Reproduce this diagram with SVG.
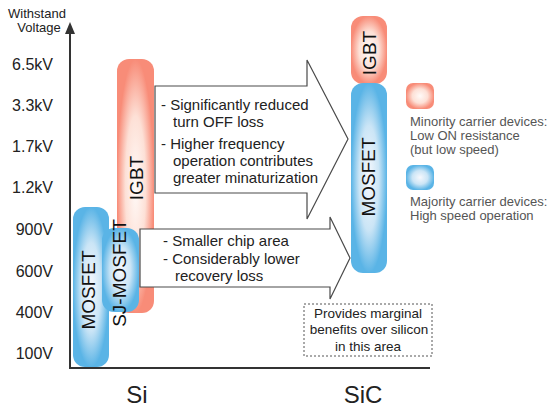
<svg xmlns="http://www.w3.org/2000/svg" width="560" height="410" viewBox="0 0 560 410">
<style>
text{font-family:"Liberation Sans",Arial,sans-serif;fill:#222}
.tick{font-size:16px;text-anchor:end}
.bar{font-size:19px;text-anchor:middle;fill:#111}
.arr{fill:#fff;stroke:#4a4a4a;stroke-width:1.2;stroke-linejoin:miter}
.at{font-size:15px}
.lg{font-size:13px;fill:#555}
.nt{font-size:13.5px;text-anchor:middle}
.ax{stroke:#333;stroke-width:2;fill:none}
</style>
<defs>
<radialGradient id="pink" cx="0.5" cy="0.5" r="0.5">
<stop offset="0" stop-color="#fffaf8"/>
<stop offset="0.55" stop-color="#fde0d6"/>
<stop offset="1" stop-color="#f88c78"/>
</radialGradient>
<radialGradient id="blue" cx="0.5" cy="0.5" r="0.5">
<stop offset="0" stop-color="#f6f8fd"/>
<stop offset="0.55" stop-color="#cbe5f6"/>
<stop offset="1" stop-color="#5ab4e6"/>
</radialGradient>
</defs>

<g id="axes">
<line class="ax" x1="70" y1="368" x2="70" y2="26"/>
<path d="M65,34 L70,22 L75,34 Z" fill="#333"/>
<line class="ax" x1="69" y1="368" x2="430" y2="368"/>
<text x="37" y="18" font-size="13" text-anchor="middle">Withstand</text>
<text x="39" y="32" font-size="13" text-anchor="middle">Voltage</text>
<text class="tick" x="53" y="70">6.5kV</text>
<text class="tick" x="53" y="111">3.3kV</text>
<text class="tick" x="53" y="152">1.7kV</text>
<text class="tick" x="53" y="193">1.2kV</text>
<text class="tick" x="53" y="235">900V</text>
<text class="tick" x="53" y="277">600V</text>
<text class="tick" x="53" y="318">400V</text>
<text class="tick" x="53" y="359">100V</text>
<text x="137" y="403" font-size="24" text-anchor="middle">Si</text>
<text x="363" y="403" font-size="24" text-anchor="middle">SiC</text>
</g>

<g id="si-igbt">
<rect x="117" y="59" width="37" height="254" rx="12" fill="url(#pink)"/>
<text class="bar" transform="translate(136,178) rotate(-90)" dy="0.35em">IGBT</text>
</g>
<g id="si-mosfet">
<rect x="73" y="207" width="36" height="160" rx="12" fill="url(#blue)"/>
<text class="bar" transform="translate(88,290) rotate(-90)" dy="0.35em">MOSFET</text>
</g>

<g id="connectors">
<path class="arr" d="M155,86 H307 V60 L348,139 L307,219 V193 H155 Z"/>
<path class="arr" d="M140,229 H330 V217 L350,258 L330,299 V287 H140 Z"/>
</g>

<g id="sj-mosfet">
<rect x="102" y="228" width="37" height="84" rx="12" fill="url(#blue)"/>
<text class="bar" transform="translate(119,273) rotate(-90)" dy="0.35em">SJ-MOSFET</text>
</g>

<g id="upper-text">
<text class="at" x="161" y="110">- Significantly reduced</text>
<text class="at" x="173" y="127">turn OFF loss</text>
<text class="at" x="161" y="149">- Higher frequency</text>
<text class="at" x="173" y="166">operation contributes</text>
<text class="at" x="173" y="183">greater minaturization</text>
</g>
<g id="lower-text">
<text class="at" x="163" y="246">- Smaller chip area</text>
<text class="at" x="163" y="264">- Considerably lower</text>
<text class="at" x="175" y="281">recovery loss</text>
</g>

<g id="sic-igbt">
<rect x="351" y="16" width="36" height="68" rx="12" fill="url(#pink)"/>
<text class="bar" transform="translate(369,53) rotate(-90)" dy="0.35em">IGBT</text>
</g>
<g id="sic-mosfet">
<rect x="351" y="83" width="36" height="190" rx="12" fill="url(#blue)"/>
<text class="bar" transform="translate(368,177) rotate(-90)" dy="0.35em">MOSFET</text>
</g>

<g id="legend-minority">
<rect x="406" y="83" width="28" height="26" rx="7" fill="url(#pink)"/>
<text class="lg" x="410" y="126">Minority carrier devices:</text>
<text class="lg" x="410" y="140">Low ON resistance</text>
<text class="lg" x="410" y="154">(but low speed)</text>
</g>
<g id="legend-majority">
<rect x="406" y="165" width="28" height="25" rx="7" fill="url(#blue)"/>
<text class="lg" x="410" y="206">Majority carrier devices:</text>
<text class="lg" x="410" y="220">High speed operation</text>
</g>

<g id="note">
<rect x="304" y="304" width="128" height="52" fill="#fff" stroke="#555" stroke-width="1" stroke-dasharray="2,2"/>
<text class="nt" x="368" y="318">Provides marginal</text>
<text class="nt" x="369" y="334">benefits over silicon</text>
<text class="nt" x="368" y="351">in this area</text>
</g>
</svg>
